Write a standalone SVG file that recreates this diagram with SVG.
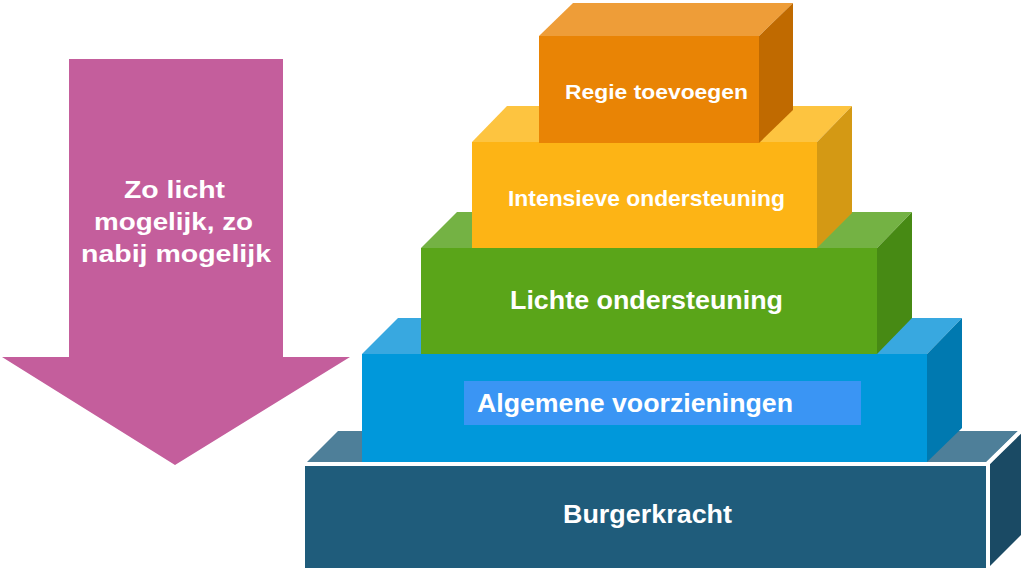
<svg xmlns="http://www.w3.org/2000/svg" width="1026" height="575" viewBox="0 0 1026 575">
<style>
.t{font-family:"Liberation Sans",Arial,sans-serif;font-weight:bold;fill:#ffffff}
.w{stroke:#ffffff;stroke-width:4;fill:none}
</style>
<rect x="0" y="0" width="1026" height="575" fill="#ffffff"/>
<g id="arrow">
<polygon points="69,59 283,59 283,357 350,357 175,465 2,357 69,357" fill="#C45E9C"/>
<text class="t" font-size="24.5" x="124" y="198" textLength="101" lengthAdjust="spacingAndGlyphs">Zo licht</text>
<text class="t" font-size="24.5" x="94" y="230" textLength="159" lengthAdjust="spacingAndGlyphs">mogelijk, zo</text>
<text class="t" font-size="24.5" x="81" y="262" textLength="190" lengthAdjust="spacingAndGlyphs">nabij mogelijk</text>
</g>
<g id="burgerkracht">
<polygon points="307,462 338,431 1018,431 987,462" fill="#4E7F99"/>
<rect x="305" y="465" width="683" height="103" fill="#1F5C7B"/>
<polygon points="989,465 1021,432 1021,535 989,567" fill="#1A4A64"/>
<line class="w" x1="305" y1="464" x2="990" y2="464"/>
<line class="w" x1="988" y1="462" x2="988" y2="569"/>
<line class="w" x1="987" y1="464" x2="1022" y2="430"/>
<text class="t" font-size="25.5" x="563" y="523" textLength="169" lengthAdjust="spacingAndGlyphs">Burgerkracht</text>
</g>
<g id="algemene">
<polygon points="362,354 398,318 962,318 927,354" fill="#38A8E0"/>
<rect x="362" y="354" width="565" height="108" fill="#0098DB"/>
<polygon points="927,354 962,318 962,428 927,462" fill="#0079B0"/>
<rect x="464" y="381" width="397" height="44" fill="#3A95F4"/>
<text class="t" font-size="25" x="477" y="412" textLength="316" lengthAdjust="spacingAndGlyphs">Algemene voorzieningen</text>
</g>
<g id="lichte">
<polygon points="421,248 457,212 912,212 877,248" fill="#74B244"/>
<rect x="421" y="248" width="456" height="106" fill="#5AA519"/>
<polygon points="877,248 912,212 912,318 877,354" fill="#478A14"/>
<text class="t" font-size="25" x="510" y="309" textLength="273" lengthAdjust="spacingAndGlyphs">Lichte ondersteuning</text>
</g>
<g id="intensieve">
<polygon points="472,142 507,106 852,106 817,142" fill="#FDC440"/>
<rect x="472" y="142" width="345" height="106" fill="#FDB415"/>
<polygon points="817,142 852,106 852,213 817,248" fill="#D49914"/>
<text class="t" font-size="22" x="508" y="206" textLength="277" lengthAdjust="spacingAndGlyphs">Intensieve ondersteuning</text>
</g>
<g id="regie">
<polygon points="539,36 573,3 793,3 759,36" fill="#EE9D38"/>
<rect x="539" y="36" width="220" height="107" fill="#E98405"/>
<polygon points="759,36 793,3 793,110 759,143" fill="#C06A00"/>
<text class="t" font-size="21" x="565" y="99" textLength="183" lengthAdjust="spacingAndGlyphs">Regie toevoegen</text>
</g>
</svg>
